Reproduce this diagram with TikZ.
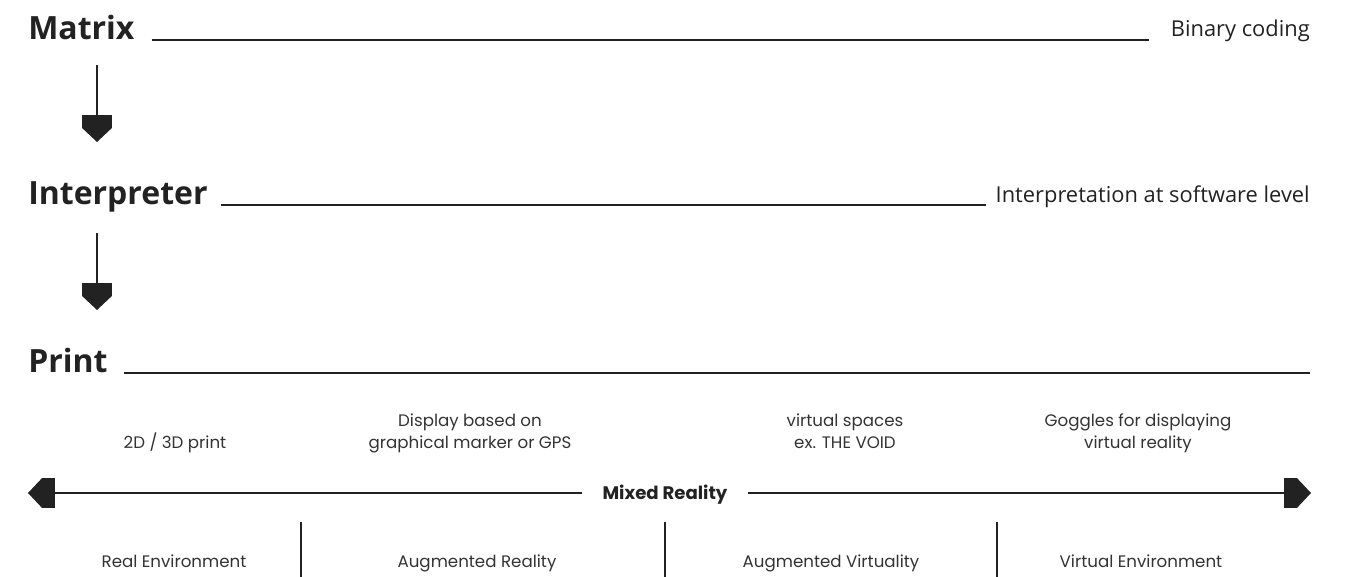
\documentclass[tikz,border=0pt]{standalone}
\usepackage{fontspec}
\setmainfont{Open Sans}
\newfontfamily\labelfont{Poppins}
\usetikzlibrary{arrows.meta}

\definecolor{ink}{HTML}{222222}
\definecolor{softink}{HTML}{333333}

\tikzset{
    Block/.tip={Rectangle[length=10pt,width=22pt,sep=0pt]Triangle[length=10.5pt,width=22pt]},
    heading/.style={anchor=base west, inner sep=0pt, text=ink, font=\fontsize{24}{28}\selectfont\bfseries},
    remark/.style={anchor=base east, inner sep=0pt, text=ink, font=\fontsize{16.4}{20}\selectfont},
    caption/.style={anchor=base, inner sep=0pt, align=center, text=softink, font=\labelfont\fontsize{12.5}{16.5}\selectfont},
    rule/.style={draw=ink, line width=1.5pt},
    flow/.style={draw=ink, line width=1.5pt, -Block}
}

\begin{document}
\begin{tikzpicture}[x=0.75pt,y=-0.75pt]
            \useasboundingbox (0,0) rectangle (1360,577);

            % Levels
            \node[heading] (mtx) at (28,40) {Matrix};
            \node[remark] (binary) at (1310,37) {Binary coding};
            \node[heading] (interp) at (28,205) {Interpreter};
            \node[remark] (software) at (1310,203) {Interpretation at software level};
            \node[heading] (print) at (28,373) {Print};
            \coordinate (printend) at (1310,373);

            % Rules
            \draw[rule, shorten <=12.75pt, shorten >=16.5pt] (mtx.base east) -- (binary.base west |- mtx.base east);
            \draw[rule, shorten <=9.75pt, shorten >=7pt] (interp.base east) -- (software.base west |- interp.base east);
            \draw[rule, shorten <=12pt] (print.base east) -- (printend);

            % Arrows between levels
            \coordinate (a1top) at (97,65);
            \coordinate (a1bot) at (97,142);
            \coordinate (a2top) at (97,233);
            \coordinate (a2bot) at (97,310);
            \draw[flow] (a1top) -- (a1bot);
            \draw[flow] (a2top) -- (a2bot);

            % Examples above the scale
            \node[caption] (ex1) at (175,448) {2D / 3D print};
            \node[caption] (ex2) at (470,448) {Display based on\\graphical marker or GPS};
            \node[caption] (ex3) at (845,448) {virtual spaces\\ex. THE VOID};
            \node[caption] (ex4) at (1138,448) {Goggles for displaying\\virtual reality};

            % Scale
            \node[anchor=base, inner xsep=15pt, inner ysep=0pt, text=ink, font=\labelfont\fontsize{13.6}{16}\selectfont\bfseries] (mixed) at (665,499) {Mixed Reality};
            \coordinate (lend) at (28,493);
            \coordinate (rend) at (1311,493);
            \draw[flow] (lend -| mixed.west) -- (lend);
            \draw[flow] (rend -| mixed.east) -- (rend);

            % Sections
            \foreach \x in {301,665,997}
                \draw[rule] (\x,522) -- (\x,577);
            \node[caption] (real) at (174,567) {Real Environment};
            \node[caption] (ar) at (477,567) {Augmented Reality};
            \node[caption] (av) at (831,567) {Augmented Virtuality};
            \node[caption] (ve) at (1141,567) {Virtual Environment};

\end{tikzpicture}
\end{document}
